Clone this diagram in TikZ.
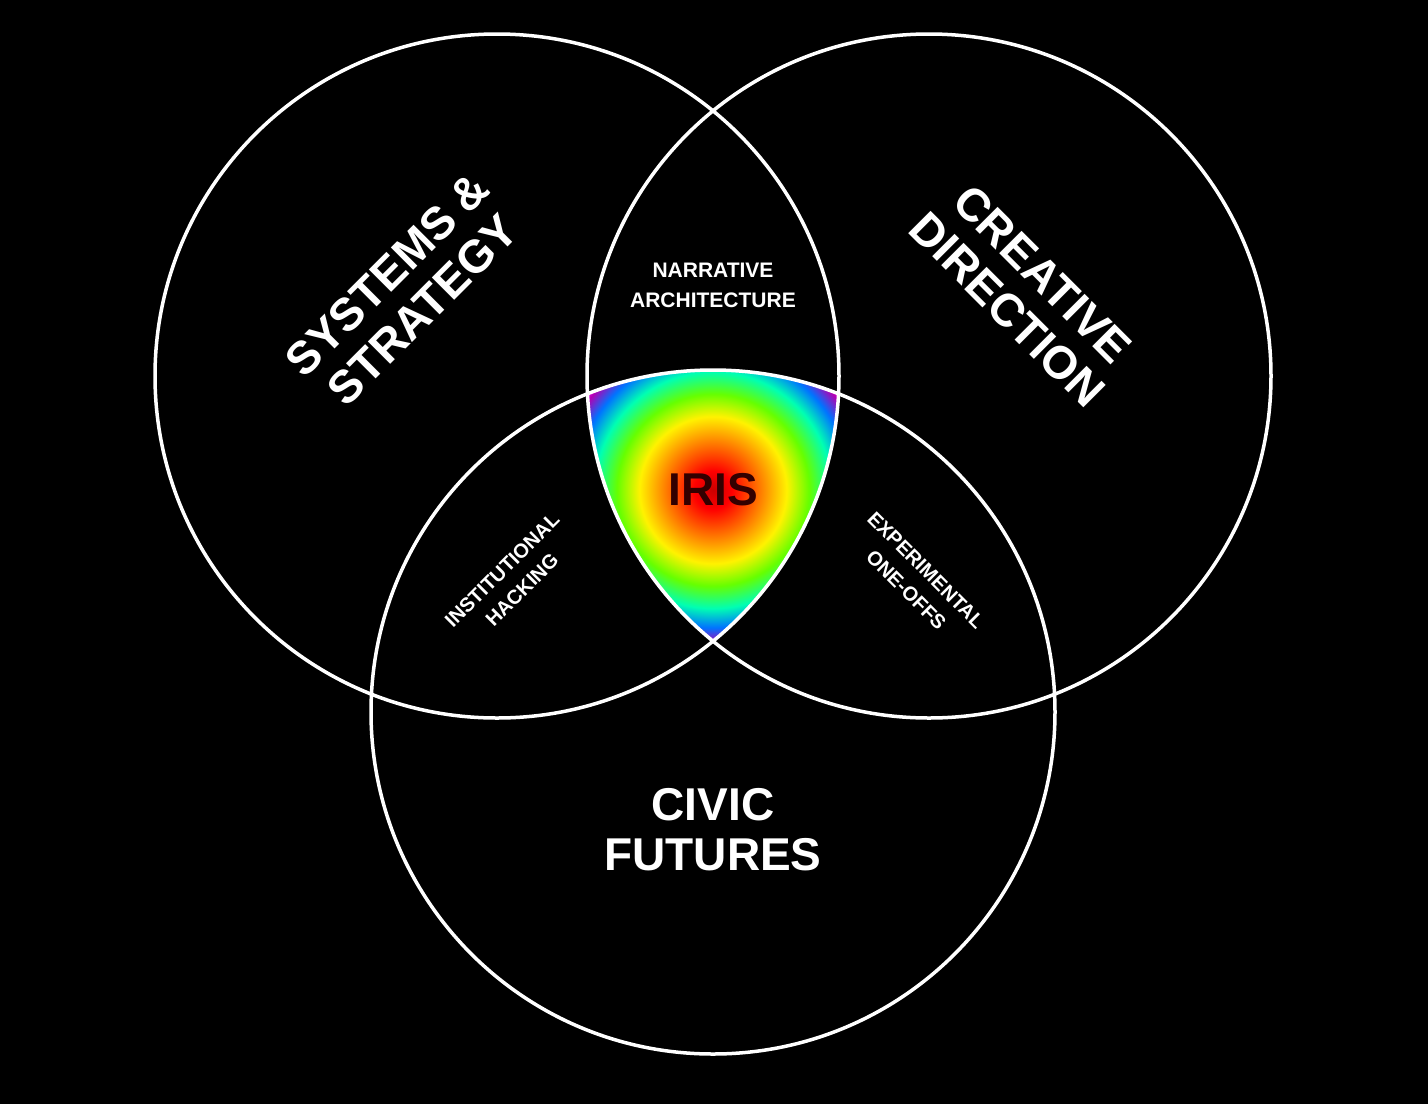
\documentclass[tikz,border=0pt]{standalone}
\usepackage{fontspec}
\setmainfont{Liberation Sans}
\pgfdeclareradialshading{rainbow}{\pgfpoint{0bp}{0bp}}{color(0bp)=(red!80!black); color(3bp)=(red); color(7.5bp)=(orange); color(11.5bp)=(yellow!90!orange); color(15bp)=(green!60!yellow); color(18.5bp)=(cyan!70!green); color(21.5bp)=(blue!55!cyan); color(24bp)=(violet!60!magenta); color(25bp)=(magenta); color(50bp)=(magenta)}
\tikzset{ring/.style={draw=white,line width=3.5pt},
big/.style={text=white,font=\bfseries\fontsize{46}{50}\selectfont,align=center},
small/.style={text=white,font=\bfseries\fontsize{21}{30}\selectfont,align=center},
tiny/.style={text=white,font=\bfseries\fontsize{20}{28}\selectfont,align=center}}
\begin{document}
\begin{tikzpicture}[x=1pt,y=-1pt]
\fill[black] (0,0) rectangle (1428,1104);
\useasboundingbox (0,0) rectangle (1428,1104);
\coordinate (cl) at (497,376);
\coordinate (cr) at (929,376);
\coordinate (cb) at (713,712);
\begin{scope}
\clip (cl) circle (342);
\clip (cr) circle (342);
\clip (cb) circle (342);
\shade[shading=rainbow] (713,490) circle (160);
\end{scope}
\draw[ring] (cl) circle (342);
\draw[ring] (cr) circle (342);
\draw[ring] (cb) circle (342);
\node[big,rotate=45] (ss) at (405,292) {SYSTEMS \&\\STRATEGY};
\node[big,rotate=-45] (cd) at (1025,292) {CREATIVE\\DIRECTION};
\node[big] (cf) at (713,830) {CIVIC\\FUTURES};
\node[small] (na) at (713,285) {NARRATIVE\\ARCHITECTURE};
\node[tiny,rotate=45] (ih) at (512,580) {INSTITUTIONAL\\HACKING};
\node[tiny,rotate=-45] (eo) at (916,580) {EXPERIMENTAL\\ONE-OFFS};
\node[font=\bfseries\fontsize{46}{46}\selectfont,text=black!80!red] (iris) at (713,490) {IRIS};
\end{tikzpicture}
\end{document}
